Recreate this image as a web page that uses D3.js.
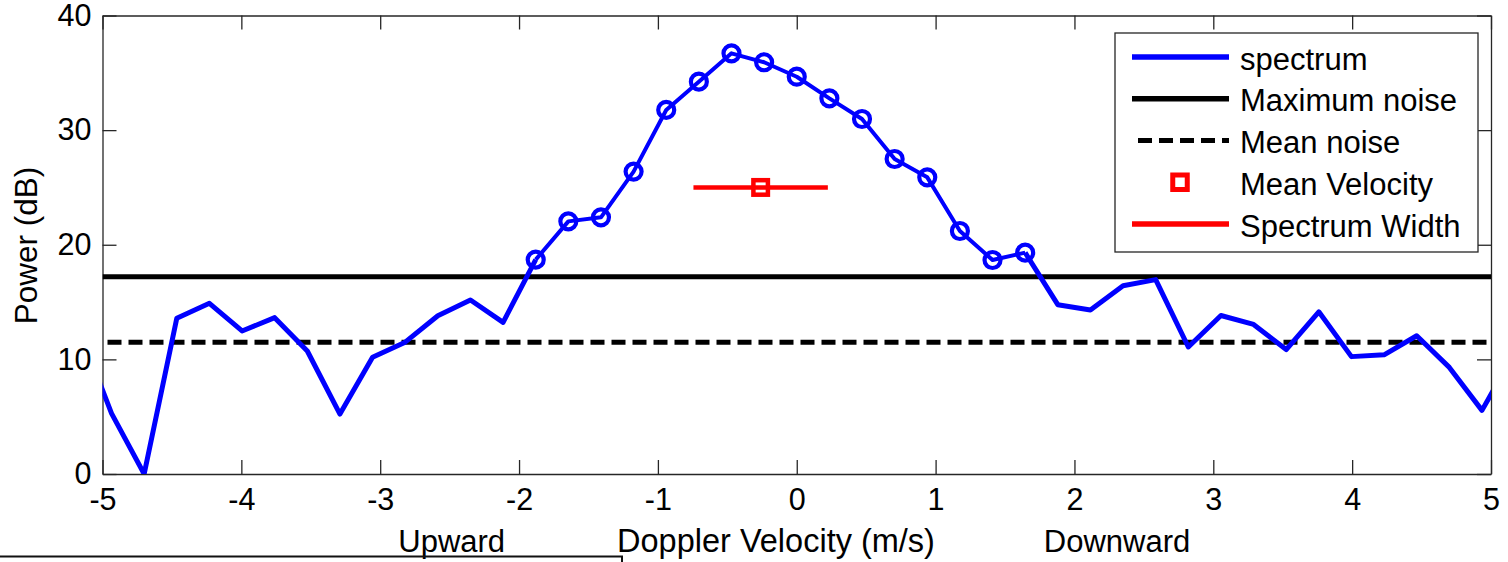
<!DOCTYPE html>
<html>
<head>
<meta charset="utf-8">
<script src="https://cdn.jsdelivr.net/npm/d3@7"></script>
<style>
  html, body { margin: 0; padding: 0; background: #fff; }
  svg { display: block; font-family: "Liberation Sans", Arial, Helvetica, sans-serif; }
</style>
</head>
<body>
<svg id="chart" width="1508" height="562"></svg>
<script>
// Doppler bins (m/s) and received power (dB)
const velocity = [
  -5.17, -4.935, -4.70, -4.465, -4.23, -3.995, -3.76, -3.525, -3.29, -3.055,
  -2.82, -2.585, -2.35, -2.115, -1.88, -1.645, -1.41, -1.175, -0.94, -0.705,
  -0.47, -0.235, 0, 0.235, 0.47, 0.705, 0.94, 1.175, 1.41, 1.645,
  1.88, 2.115, 2.35, 2.585, 2.82, 3.055, 3.29, 3.525, 3.76, 3.995,
  4.23, 4.465, 4.70, 4.935, 5.17
];
const power = [
  12.67, 5.29, 0.0, 13.58, 14.89, 12.48, 13.64, 10.73, 5.23, 10.18,
  11.5, 13.81, 15.18, 13.23, 18.7, 22.04, 22.39, 26.38, 31.76, 34.23,
  36.70, 35.92, 34.66, 32.77, 30.97, 27.48, 25.88, 21.20, 18.67, 19.31,
  14.77, 14.31, 16.43, 16.96, 11.08, 13.83, 13.05, 10.86, 14.15, 10.24,
  10.40, 12.06, 9.30, 5.55, 10.6
];
// first and last bin of the detected signal
const signalBins = [14, 29];

const maxNoise = 17.2;
const meanNoise = 11.5;
const meanVelocity = -0.26;
const meanVelocityPower = 25;
const spectrumWidth = 0.484;

const xTicks = [-5, -4, -3, -2, -1, 0, 1, 2, 3, 4, 5];
const yTicks = [0, 10, 20, 30, 40];

const legendLabels = ["spectrum", "Maximum noise", "Mean noise", "Mean Velocity", "Spectrum Width"];
const xNotes = ["Upward", "Doppler Velocity (m/s)", "Downward"];
const yLabel = "Power (dB)";

const svg = d3.select("#chart");
const L = 102.5, R = 1491, T = 15.5, B = 474;

const x = d3.scaleLinear().domain([-5, 5]).range([L, R]);
const y = d3.scaleLinear().domain([0, 40]).range([B, T]);

const BLUE = "#0000ff", RED = "#ff0000", INK = "#000";
const dash = "14,7";

svg.append("rect").attr("width", 1508).attr("height", 562).attr("fill", "#fff");

svg.append("defs").append("clipPath").attr("id", "plot-clip")
  .append("rect").attr("x", L).attr("y", T).attr("width", R - L).attr("height", B - T);

// axes (ticks pointing inward on all four sides)
function styleAxis(g) {
  g.selectAll("path.domain").attr("stroke", "#262626").attr("stroke-width", 1.3);
  g.selectAll(".tick line").attr("stroke", "#262626").attr("stroke-width", 1.3);
  g.selectAll("text").attr("fill", INK).style("font-size", "30.5px")
    .style("font-family", "'Liberation Sans', Arial, sans-serif");
}
svg.append("g").attr("transform", `translate(0,${B})`)
  .call(d3.axisBottom(x).tickValues(xTicks).tickSize(-14).tickSizeOuter(0).tickPadding(14.5)
    .tickFormat(d3.format("d")))
  .call(styleAxis);
svg.append("g").attr("transform", `translate(0,${T})`)
  .call(d3.axisTop(x).tickValues(xTicks).tickSize(-14).tickSizeOuter(0).tickFormat(""))
  .call(styleAxis);
svg.append("g").attr("transform", `translate(${L},0)`)
  .call(d3.axisLeft(y).tickValues(yTicks).tickSize(-14).tickSizeOuter(0).tickPadding(11)
    .tickFormat(d3.format("d")))
  .call(styleAxis);
svg.append("g").attr("transform", `translate(${R},0)`)
  .call(d3.axisRight(y).tickValues(yTicks).tickSize(-14).tickSizeOuter(0).tickFormat(""))
  .call(styleAxis);

// tick labels use a plain hyphen for the minus sign
svg.selectAll("text").each(function () {
  const t = d3.select(this);
  t.text(t.text().replace("\u2212", "-"));
});

const plot = svg.append("g").attr("clip-path", "url(#plot-clip)");

// noise levels
plot.append("line")
  .attr("x1", x(-5)).attr("x2", x(5)).attr("y1", y(maxNoise)).attr("y2", y(maxNoise))
  .attr("stroke", INK).attr("stroke-width", 5);
plot.append("line")
  .attr("x1", x(-5)).attr("x2", x(5)).attr("y1", y(meanNoise)).attr("y2", y(meanNoise))
  .attr("stroke", INK).attr("stroke-width", 5)
  .attr("stroke-dasharray", dash).attr("stroke-dashoffset", 16);

// spectrum
const pts = velocity.map((v, i) => ({ v, p: power[i], i }));
const line = d3.line().x(d => x(d.v)).y(d => y(d.p));
const [s0, s1] = signalBins;
plot.append("path").datum(pts.filter(d => d.i <= s0))
  .attr("d", line).attr("fill", "none").attr("stroke", BLUE)
  .attr("stroke-width", 5).attr("stroke-linejoin", "round");
plot.append("path").datum(pts.filter(d => d.i >= s1))
  .attr("d", line).attr("fill", "none").attr("stroke", BLUE)
  .attr("stroke-width", 5).attr("stroke-linejoin", "round");
const signal = pts.filter(d => d.i >= s0 && d.i <= s1);
plot.append("path").datum(signal)
  .attr("d", line).attr("fill", "none").attr("stroke", BLUE)
  .attr("stroke-width", 4).attr("stroke-linejoin", "round");
plot.selectAll("circle.sig").data(signal).join("circle")
  .attr("class", "sig")
  .attr("cx", d => x(d.v)).attr("cy", d => y(d.p)).attr("r", 8)
  .attr("fill", "none").attr("stroke", BLUE).attr("stroke-width", 4.2);

// mean velocity and spectrum width
plot.append("line")
  .attr("x1", x(meanVelocity - spectrumWidth)).attr("x2", x(meanVelocity + spectrumWidth))
  .attr("y1", y(meanVelocityPower)).attr("y2", y(meanVelocityPower))
  .attr("stroke", RED).attr("stroke-width", 4.5);
const sq = 14.5;
plot.append("rect")
  .attr("x", x(meanVelocity) - sq / 2).attr("y", y(meanVelocityPower) - sq / 2)
  .attr("width", sq).attr("height", sq)
  .attr("fill", "none").attr("stroke", RED).attr("stroke-width", 4.5);

// legend
const lg = svg.append("g");
lg.append("rect").attr("x", 1115).attr("y", 33).attr("width", 363).attr("height", 219)
  .attr("fill", "#fff").attr("stroke", "#262626").attr("stroke-width", 1.3);
const rowY = d3.scalePoint().domain(legendLabels).range([57, 224]);
const sx0 = 1132, sx1 = 1229;
legendLabels.forEach((lab, i) => {
  const cy = rowY(lab);
  if (i === 0 || i === 1 || i === 4) {
    lg.append("line").attr("x1", sx0).attr("x2", sx1).attr("y1", cy).attr("y2", cy)
      .attr("stroke", i === 0 ? BLUE : i === 1 ? INK : RED).attr("stroke-width", 5.5);
  } else if (i === 2) {
    lg.append("line").attr("x1", sx0).attr("x2", sx1).attr("y1", cy).attr("y2", cy)
      .attr("stroke", INK).attr("stroke-width", 5)
      .attr("stroke-dasharray", dash).attr("stroke-dashoffset", 15);
  } else {
    lg.append("rect").attr("x", (sx0 + sx1) / 2 - sq / 2 - 0.5).attr("y", cy - sq / 2)
      .attr("width", sq).attr("height", sq)
      .attr("fill", "none").attr("stroke", RED).attr("stroke-width", 5);
  }
  lg.append("text").attr("x", 1240).attr("y", cy + 12.5)
    .attr("fill", INK).style("font-size", "31px").text(lab);
});

// axis titles
const noteX = [451.7, 776, 1117];
const noteSize = [31, 32.5, 31];
xNotes.forEach((t, i) => {
  svg.append("text").attr("x", noteX[i]).attr("y", 552).attr("text-anchor", "middle")
    .attr("fill", INK).style("font-size", noteSize[i] + "px").text(t);
});
svg.append("text")
  .attr("transform", `translate(37,245.5) rotate(-90)`)
  .attr("text-anchor", "middle").attr("fill", INK).style("font-size", "31.5px").text(yLabel);

// rule under the bottom-left caption
svg.append("path")
  .attr("d", "M0,556.5H622V562")
  .attr("fill", "none").attr("stroke", "#111").attr("stroke-width", 2);
</script>
</body>
</html>
